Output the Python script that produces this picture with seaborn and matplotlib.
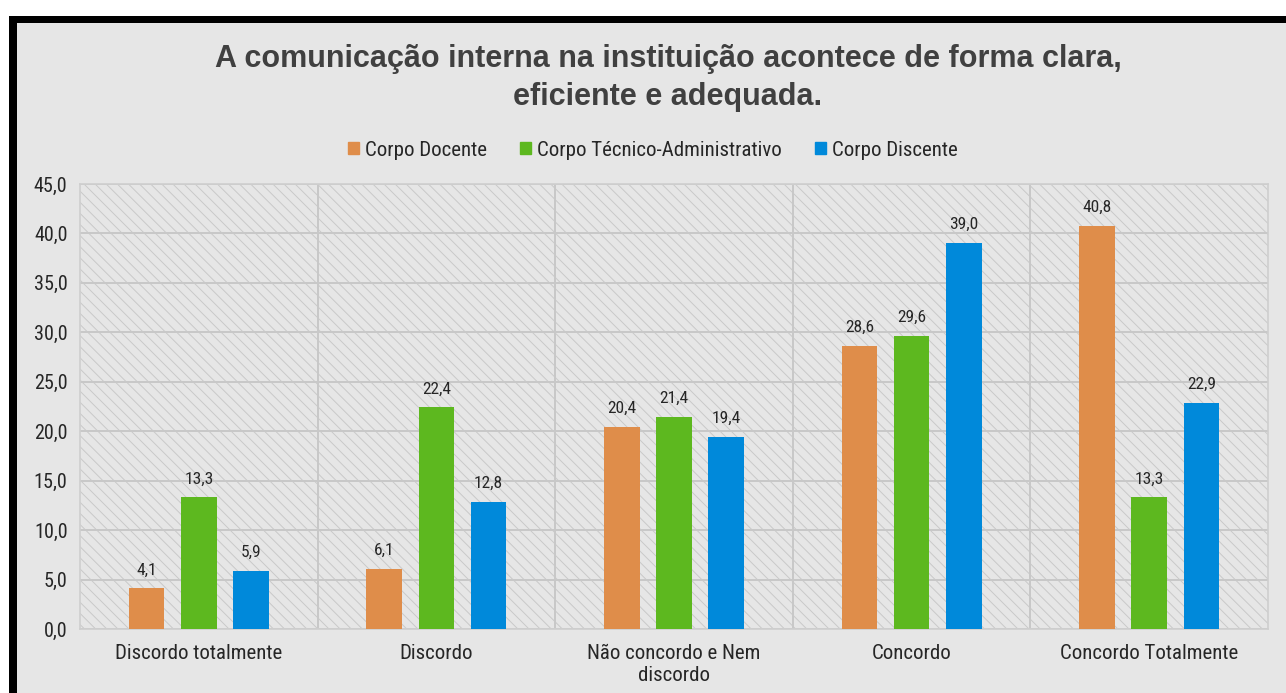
import matplotlib

matplotlib.use("Agg")
import matplotlib.pyplot as plt
from matplotlib.patches import Rectangle
import numpy as np
import pandas as pd
import seaborn as sns

# -------------------------
# Data
# -------------------------
categories = [
    "Discordo totalmente",
    "Discordo",
    "Não concordo e Nem\ndiscordo",
    "Concordo",
    "Concordo Totalmente",
]
groups = ["Corpo Docente", "Corpo Técnico-Administrativo", "Corpo Discente"]
docente = [4.1, 6.1, 20.4, 28.6, 40.8]
tecnico = [13.3, 22.4, 21.4, 29.6, 13.3]
discente = [5.9, 12.8, 19.4, 39.0, 22.9]
colors = ["#DF8D4A", "#5DB81F", "#0089DA"]
title = "A comunicação interna na instituição acontece de forma clara,\neficiente e adequada."

df = pd.DataFrame({
    "categoria": categories * 3,
    "grupo": [g for g in groups for _ in categories],
    "valor": docente + tecnico + discente,
})

# -------------------------
# Style
# -------------------------
sns.set_style("white")
plt.rcParams["font.family"] = ["Liberation Sans Narrow", "Roboto Condensed",
                               "Liberation Sans", "DejaVu Sans"]
plt.rcParams["hatch.color"] = "#C9C9C9"
plt.rcParams["hatch.linewidth"] = 0.7

BG = "#E6E6E6"
TXT = "#262626"
fig = plt.figure(figsize=(12.86, 6.93), dpi=100, facecolor="white")

# outer frame (gray panel with thick black border on top/left)
fig.add_artist(Rectangle((17 / 1286, 0), 1, 1 - 23 / 693, transform=fig.transFigure,
                         facecolor=BG, edgecolor="none", zorder=0))
fig.add_artist(Rectangle((9 / 1286, 1 - 23 / 693), 1, 7 / 693, transform=fig.transFigure,
                         facecolor="black", edgecolor="none", zorder=1))
fig.add_artist(Rectangle((9 / 1286, 0), 8 / 1286, 1 - 16 / 693, transform=fig.transFigure,
                         facecolor="black", edgecolor="none", zorder=1))

ax = fig.add_axes([80 / 1286, 1 - 629 / 693, (1268 - 80) / 1286, (629 - 184) / 693])
ax.set_facecolor(BG)
ax.add_patch(Rectangle((0, 0), 1, 1, transform=ax.transAxes, facecolor=BG,
                       edgecolor="#C9C9C9", hatch="\\\\\\", lw=0, zorder=0))

sns.barplot(data=df, x="categoria", y="valor", hue="grupo", palette=colors,
            saturation=1, width=0.66, gap=0.32, linewidth=0, edgecolor="none",
            ax=ax, zorder=3, legend=True)

for cont in ax.containers:
    ax.bar_label(cont, labels=[f"{b.get_height():.1f}".replace(".", ",") for b in cont],
                 padding=8, fontsize=12.5, color=TXT)

ax.set_ylim(0, 45)
ax.set_xlim(-0.5, len(categories) - 0.5)
ax.set_yticks(np.arange(0, 46, 5))
ax.set_yticklabels([f"{v:.1f}".replace(".", ",") for v in np.arange(0, 46, 5)],
                   fontsize=14.5)
ax.set_xticks(range(len(categories)))
ax.set_xticklabels(categories, linespacing=1.15, fontsize=15)
ax.set_xticks(np.arange(0.5, len(categories) - 0.5, 1), minor=True)
ax.tick_params(axis="both", which="both", length=0, labelcolor=TXT)
ax.tick_params(axis="x", pad=11)
ax.tick_params(axis="y", pad=9)
ax.grid(axis="y", color="#C8C8C8", lw=1.4, zorder=1)
ax.grid(axis="x", which="minor", color="#C8C8C8", lw=1.4, zorder=1)
ax.grid(axis="x", which="major", visible=False)
ax.set_axisbelow(True)
ax.set_xlabel("")
ax.set_ylabel("")
for s in ax.spines.values():
    s.set_color("#CFCFCF")
    s.set_linewidth(1.2)

ax.get_legend().remove()
handles = [Rectangle((0, 0), 1, 1, color=c) for c in colors]
fig.legend(handles, groups, loc="center", bbox_to_anchor=(653 / 1286, 1 - 150 / 693),
           ncol=3, frameon=False, fontsize=15, handlelength=0.5, handleheight=0.5,
           handletextpad=0.3, columnspacing=1.6, labelcolor=TXT)

fig.text(668 / 1286, 1 - 78 / 693, title, ha="center", va="center", fontsize=22,
         fontweight="bold", color="#404040", family=["Liberation Sans", "DejaVu Sans"],
         linespacing=1.35)

fig.savefig("out.png", dpi=100, facecolor="white")
